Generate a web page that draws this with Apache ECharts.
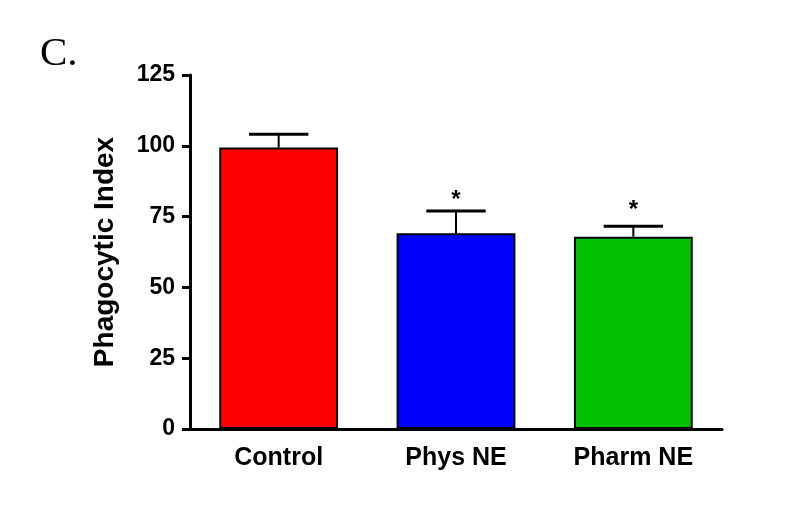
<!DOCTYPE html>
<html><head><meta charset="utf-8">
<script src="https://cdn.jsdelivr.net/npm/echarts@6/dist/echarts.min.js"></script>
<style>html,body{margin:0;padding:0;background:#fff}#c{width:800px;height:528px}</style>
</head><body><div id="c"></div>
<script>
const categories = ['Control', 'Phys NE', 'Pharm NE'];
const means = [99.4, 69.1, 67.9];
const errors = [4.7, 7.9, 3.7];
const barColors = ['#ff0000', '#0000ff', '#00c000'];
const starMarks = ['', '*', '*'];
const starValues = [null, 83.5, 80.0];
const yTicks = [0, 25, 50, 75, 100, 125];

const chart = echarts.init(document.getElementById('c'));
const F = 'Liberation Sans, Arial, sans-serif';
chart.setOption({
  animation: false,
  title: {
    text: 'C.', left: 35, top: 29,
    textStyle: { fontFamily: 'Liberation Serif, Times New Roman, serif', fontSize: 41, fontWeight: 'normal', color: '#000' }
  },
  grid: { left: 190, right: 78, top: 75, bottom: 99 },
  xAxis: {
    type: 'category', data: categories,
    axisLine: { lineStyle: { color: '#000', width: 3 } },
    axisTick: { show: false },
    axisLabel: { color: '#000', fontFamily: F, fontWeight: 'bold', fontSize: 25, margin: 17 }
  },
  yAxis: {
    type: 'value', min: yTicks[0], max: yTicks[yTicks.length - 1], interval: 25,
    name: 'Phagocytic Index', nameLocation: 'middle', nameGap: 71, nameRotate: 90,
    nameTextStyle: { color: '#000', fontFamily: F, fontWeight: 'bold', fontSize: 28 },
    axisLine: { show: true, lineStyle: { color: '#000', width: 3 } },
    axisTick: { show: true, length: 8, lineStyle: { color: '#000', width: 3 } },
    axisLabel: { color: '#000', fontFamily: F, fontWeight: 'bold', fontSize: 23, margin: 15, padding: [6, 0, 0, 0] },
    splitLine: { show: false }
  },
  series: [
    {
      type: 'bar', barWidth: '67%', z: 2,
      data: means.map((v, i) => ({ value: v, itemStyle: { color: barColors[i], borderColor: '#000', borderWidth: 2 } }))
    },
    {
      type: 'custom', z: 1,
      data: means.map((v, i) => [i, v, errors[i]]),
      renderItem: function (params, api) {
        const i = api.value(0);
        const base = api.coord([i, api.value(1)]);
        const top = api.coord([i, api.value(1) + api.value(2)]);
        const bw = api.size([1, 0])[0] * 0.67;
        const half = bw / 4;
        return {
          type: 'group', children: [
            { type: 'line', shape: { x1: base[0], y1: base[1], x2: top[0], y2: top[1] }, style: { stroke: '#000', lineWidth: 2 } },
            { type: 'line', shape: { x1: top[0] - half, y1: top[1], x2: top[0] + half, y2: top[1] }, style: { stroke: '#000', lineWidth: 3 } }
          ]
        };
      }
    },
    {
      type: 'custom', z: 3,
      data: starValues.map((v, i) => [i, v === null ? 0 : v, starMarks[i]]),
      renderItem: function (params, api) {
        const idx = params.dataIndex;
        if (!starMarks[idx]) return null;
        const p = api.coord([api.value(0), starValues[idx]]);
        return {
          type: 'text',
          style: { text: starMarks[idx], x: p[0], y: p[1] + 8, align: 'center', verticalAlign: 'middle', fontFamily: F, fontWeight: 'bold', fontSize: 24, fill: '#000' }
        };
      }
    }
  ]
});
</script></body></html>
